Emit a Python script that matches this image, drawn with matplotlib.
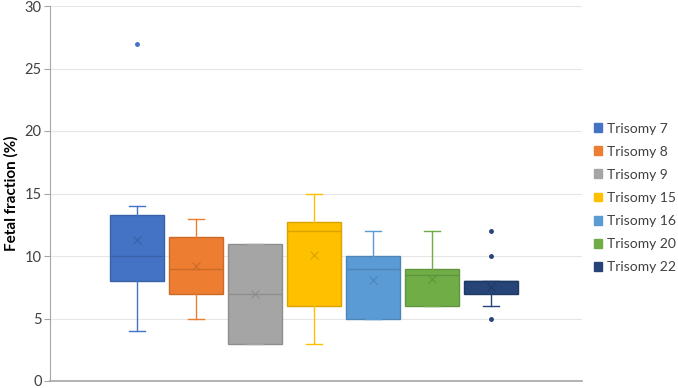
import matplotlib
matplotlib.use('Agg')
import matplotlib.pyplot as plt
from matplotlib.patches import Patch

plt.rcParams['font.family'] = ['Lato', 'DejaVu Sans']

groups = ["Trisomy 7", "Trisomy 8", "Trisomy 9", "Trisomy 15", "Trisomy 16", "Trisomy 20", "Trisomy 22"]
whislo = [4.0, 5.0, 3.0, 3.0, 5.0, 6.0, 6.0]
q1 = [8.0, 7.0, 3.0, 6.0, 5.0, 6.0, 7.0]
med = [10.0, 9.0, 7.0, 12.0, 9.0, 8.5, 8.0]
q3 = [13.25, 11.5, 11.0, 12.75, 10.0, 9.0, 8.0]
whishi = [14.0, 13.0, 11.0, 15.0, 12.0, 12.0, 8.0]
means = [11.3, 9.2, 7.0, 10.1, 8.1, 8.2, 7.5]
fliers = [[27.0], [], [], [], [], [], [12.0, 10.0, 5.0]]

colors = ["#4472C4", "#ED7D31", "#A5A5A5", "#FFC000", "#5B9BD5", "#70AD47", "#264478"]
dark = ["#3A62A8", "#CC6A28", "#8E8E8E", "#D9A400", "#4E85B7", "#60953D", "#1F3962"]

fig = plt.figure(figsize=(6.78, 3.88), dpi=100)
ax = fig.add_axes([50 / 678, 7 / 388, 532 / 678, 375 / 388])

for i, name in enumerate(groups):
    stats = [{"whislo": whislo[i], "q1": q1[i], "med": med[i], "q3": q3[i],
              "whishi": whishi[i], "mean": means[i], "fliers": fliers[i], "label": name}]
    ax.bxp(stats, positions=[i], widths=0.91, patch_artist=True, showmeans=True,
           boxprops=dict(facecolor=colors[i], edgecolor=dark[i], linewidth=1.0),
           medianprops=dict(color=dark[i], linewidth=1.0),
           whiskerprops=dict(color=colors[i], linewidth=1.0),
           capprops=dict(color=colors[i], linewidth=1.0),
           capwidths=0.27,
           meanprops=dict(marker="x", markeredgecolor=dark[i], markersize=6, markeredgewidth=0.8),
           flierprops=dict(marker="o", markerfacecolor=colors[i], markeredgecolor=colors[i], markersize=2.5))

ax.set_xlim(-1.48, 7.54)
ax.set_ylim(0, 30)
ax.set_yticks(range(0, 31, 5))
ax.set_xticks([])
ax.grid(axis="y", color="#E6E6E6", linewidth=0.8)
ax.set_axisbelow(True)
for s in ["top", "right"]:
    ax.spines[s].set_visible(False)
ax.spines["left"].set_color("#A6A6A6")
ax.spines["bottom"].set_color("#A6A6A6")
ax.spines["bottom"].set_linewidth(1.2)
ax.tick_params(axis="y", colors="#A6A6A6", labelcolor="#404040", labelsize=10.5, length=4, pad=2)
ax.set_ylabel("Fetal fraction (%)", fontsize=11, fontweight="bold", labelpad=4)

handles = [Patch(facecolor=c, edgecolor=c) for c in colors]
fig.legend(handles, groups, loc="upper left", bbox_to_anchor=(588 / 678, 1 - 117 / 388),
           borderaxespad=0, frameon=False, fontsize=10, handlelength=0.6, handleheight=0.6,
           handletextpad=0.4, labelspacing=0.8, labelcolor="#404040")

fig.savefig("out.png", dpi=100)
